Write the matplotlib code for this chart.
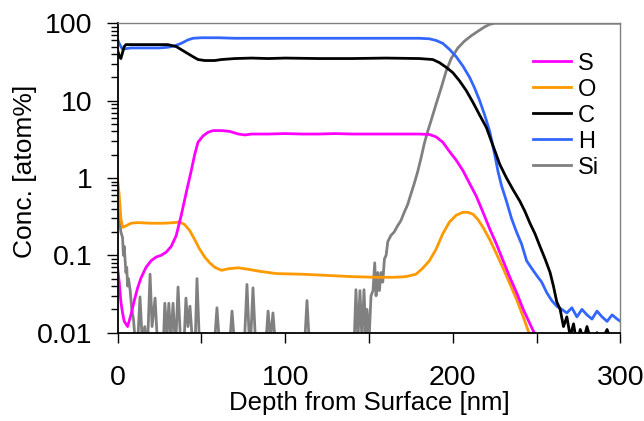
import matplotlib
matplotlib.use("Agg")
import matplotlib.pyplot as plt
import numpy as np

plt.rcParams['font.family'] = ['Liberation Sans', 'DejaVu Sans']

# depth [nm] / concentration [atom%]
s_depth = [0, 1, 2, 3, 4, 6, 8, 10, 12, 14, 17, 20, 23, 26, 29, 32, 35, 38, 41, 44, 46, 48, 51, 54,
           57, 62, 67, 72, 76, 80, 90, 100, 110, 120, 130, 140, 150, 160, 170, 180, 186, 190, 194,
           198, 202, 206, 210, 214, 218, 222, 226, 230, 234, 238, 242, 246, 250, 254]
s_conc = [0.07, 0.045, 0.025, 0.018, 0.014, 0.012, 0.017, 0.026, 0.038, 0.051, 0.07, 0.085, 0.095,
          0.10, 0.11, 0.13, 0.18, 0.33, 0.65, 1.25, 2.0, 2.9, 3.5, 3.9, 4.1, 4.1, 4.0, 3.7, 3.6, 3.7,
          3.7, 3.75, 3.7, 3.7, 3.75, 3.7, 3.7, 3.7, 3.7, 3.7, 3.65, 3.4, 2.9, 2.2, 1.7, 1.25, 0.85,
          0.58, 0.36, 0.22, 0.14, 0.085, 0.052, 0.033, 0.02, 0.013, 0.0085, 0.005]

o_depth = [0, 1, 2, 3, 5, 8, 12, 20, 28, 34, 37, 40, 43, 46, 49, 52, 55, 58, 62, 66, 72, 78, 85, 95,
           110, 125, 140, 155, 165, 172, 178, 182, 186, 190, 194, 198, 202, 206, 209, 212, 215, 218,
           222, 226, 230, 234, 238, 242, 245, 248]
o_conc = [1.0, 0.6, 0.3, 0.23, 0.24, 0.26, 0.265, 0.26, 0.26, 0.265, 0.27, 0.25, 0.21, 0.16, 0.12,
          0.095, 0.08, 0.07, 0.064, 0.067, 0.069, 0.066, 0.062, 0.058, 0.057, 0.055, 0.053, 0.052,
          0.052, 0.053, 0.057, 0.068, 0.085, 0.12, 0.19, 0.27, 0.33, 0.36, 0.36, 0.34, 0.29, 0.23,
          0.16, 0.105, 0.068, 0.043, 0.027, 0.016, 0.0105, 0.007]

c_depth = [0, 1, 2, 3, 4, 5, 10, 20, 30, 35, 40, 45, 48, 52, 58, 62, 70, 80, 90, 100, 120, 140, 160,
           180, 188, 192, 196, 200, 204, 208, 212, 216, 220, 224, 228, 232, 236, 240, 243, 246, 249,
           252, 255, 258, 260, 262, 264, 266, 268, 270, 272, 274, 276, 278, 280, 283, 286, 289, 292,
           295, 298, 300]
c_conc = [45, 38, 35, 42, 50, 53, 53, 53, 53, 50, 43, 37, 34, 33, 33, 34, 35, 35.5, 35, 35.5, 35, 35,
          35.5, 35, 34, 31, 27, 23, 18, 13.5, 9.5, 6.5, 4.5, 2.6, 1.5, 1.0, 0.7, 0.5, 0.37, 0.26,
          0.19, 0.13, 0.09, 0.06, 0.04, 0.025, 0.02, 0.012, 0.016, 0.009, 0.013, 0.007, 0.011, 0.008,
          0.012, 0.007, 0.01, 0.008, 0.011, 0.007, 0.009, 0.008]

h_depth = [0, 1, 2, 3, 5, 8, 15, 25, 30, 34, 38, 42, 45, 50, 60, 70, 100, 130, 160, 180, 186, 190,
           194, 198, 202, 206, 210, 213, 216, 219, 222, 225, 227, 229, 232, 235, 238, 241, 244, 247,
           250, 253, 256, 259, 262, 265, 268, 271, 274, 277, 280, 283, 286, 289, 292, 295, 298, 300]
h_conc = [62, 55, 50, 46, 47, 48, 48, 48, 49, 51, 55, 61, 64, 65, 65, 64, 64, 64, 64, 64, 63, 60, 55,
          46, 37, 28, 20, 14.5, 10, 6.5, 4.0, 2.0, 1.2, 0.8, 0.5, 0.3, 0.2, 0.14, 0.085, 0.068,
          0.055, 0.045, 0.033, 0.026, 0.022, 0.02, 0.018, 0.021, 0.016, 0.02, 0.017, 0.015, 0.019,
          0.016, 0.014, 0.017, 0.015, 0.014]

si_depth = [0, 0.5, 1, 1.5, 2, 3, 3.5, 4, 5, 5.5, 6, 6.5, 7.5, 8.5, 9.5, 10.5, 11.8, 13.4, 15.0,
            16.2, 17.8, 19.4, 20.6, 22.4, 24.0, 27.2, 28.2, 29.5, 30.6, 31.8, 33.1, 34.6, 36.1,
            37.8, 39.5, 40.8, 42.0, 43.2, 45.0, 46.2, 47.4, 49.0, 57.6, 59.3, 61.0, 66.6, 68.3,
            70.0, 75.5, 77.2, 78.6, 79.4, 80.8, 82.5, 88.2, 89.8, 91.2, 92.7, 94.4, 111.4, 113.0,
            114.6, 141.0, 142.2, 143.4, 144.6, 145.8, 147.0, 148.0, 148.8, 150.0, 151.2, 152.4,
            153.4, 154.2, 155.2, 156.2, 157.2, 158.2, 159.2, 160.2, 161.2, 163, 165, 167, 169, 171,
            173, 175, 177, 179, 181, 183, 185, 187, 190, 193, 196, 199, 203, 207, 211, 215, 219,
            222, 225, 300]
si_conc = [0.55, 0.3, 0.45, 0.25, 0.2, 0.17, 0.1, 0.13, 0.06, 0.07, 0.04, 0.05, 0.036, 0.02, 0.015,
           0.008, 0.006, 0.029, 0.006, 0.012, 0.006, 0.057, 0.012, 0.028, 0.006, 0.006, 0.024,
           0.009, 0.024, 0.008, 0.024, 0.006, 0.039, 0.006, 0.006, 0.028, 0.012, 0.022, 0.006,
           0.006, 0.05, 0.006, 0.006, 0.021, 0.006, 0.006, 0.019, 0.006, 0.006, 0.042, 0.008,
           0.008, 0.038, 0.006, 0.006, 0.019, 0.008, 0.018, 0.006, 0.006, 0.026, 0.006, 0.006,
           0.036, 0.008, 0.035, 0.008, 0.036, 0.01, 0.02, 0.008, 0.03, 0.035, 0.08, 0.03, 0.06,
           0.035, 0.06, 0.045, 0.09, 0.1, 0.15, 0.18, 0.2, 0.24, 0.28, 0.36, 0.45, 0.62, 0.85, 1.2,
           1.8, 2.8, 4.0, 5.5, 9, 14.5, 24, 35, 48, 59, 69, 79, 90, 97, 100, 100]

series = [("S", s_depth, s_conc, "#ff00ff"),
          ("O", o_depth, o_conc, "#ff9900"),
          ("C", c_depth, c_conc, "black"),
          ("H", h_depth, h_conc, "#3366ff"),
          ("Si", si_depth, si_conc, "#808080")]

fig = plt.figure(figsize=(6.44, 4.21), dpi=100)
ax = fig.add_axes([0.1825, 0.2098, 0.781, 0.7349])

# drawn in reverse so that S ends up on top, as in the original
for name, d, c, col in series[::-1]:
    ax.plot(d, c, color=col, lw=2, label=name, solid_joinstyle='round')

ax.set_yscale('log')
ax.set_xlim(0, 300)
ax.set_ylim(0.01, 100)

ax.set_yticks([0.01, 0.1, 1, 10, 100])
ax.set_yticklabels(['0.01', '0.1', '1', '10', '100'])
ax.set_xticks([0, 100, 200, 300])
ax.set_xticks([50, 150, 250], minor=True)

ax.tick_params(axis='x', which='both', direction='out', length=7, width=1, pad=16, labelsize=20.5)
ax.tick_params(axis='y', which='major', direction='out', length=8, width=1, pad=10, labelsize=20.5)
ax.tick_params(axis='y', which='minor', direction='out', length=5, width=1)

for side in ['top', 'right']:
    ax.spines[side].set_color('#808080')
    ax.spines[side].set_linewidth(1)
for side in ['left', 'bottom']:
    ax.spines[side].set_color('black')
    ax.spines[side].set_linewidth(1.3)

ax.set_xlabel('Depth from Surface [nm]', fontsize=18.5)
ax.set_ylabel('Conc. [atom%]', fontsize=19)
ax.xaxis.set_label_coords(0.5, -0.19)
ax.yaxis.set_label_coords(-0.16, 0.52)

handles, labels = ax.get_legend_handles_labels()
ax.legend(handles[::-1], labels[::-1], loc='upper left', bbox_to_anchor=(0.826, 0.905),
          frameon=False, fontsize=17, handlelength=1.6, handletextpad=0.3,
          labelspacing=0.17, borderpad=0, borderaxespad=0)

fig.savefig('out.png', dpi=100)
